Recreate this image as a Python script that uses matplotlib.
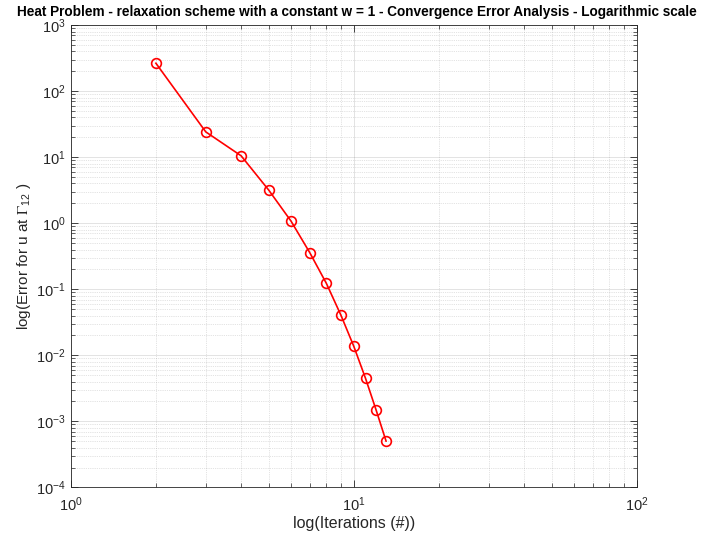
import matplotlib
matplotlib.use("Agg")
import matplotlib.pyplot as plt
from matplotlib.ticker import LogLocator, NullFormatter

iterations = [2, 3, 4, 5, 6, 7, 8, 9, 10, 11, 12, 13]
errors = [265, 24.2, 10.5, 3.2, 1.08, 0.355, 0.123, 0.0408, 0.0137, 0.00449, 0.00147, 0.000503]

plt.rcParams['font.family'] = ['Liberation Sans', 'DejaVu Sans']
plt.rcParams['mathtext.fontset'] = 'stix'
plt.rcParams['axes.unicode_minus'] = False

fig = plt.figure(figsize=(7.14, 5.35), dpi=100)
ax = fig.add_axes([0.099, 0.089, 0.793, 0.864])
ax.loglog(iterations, errors, '-o', color='#ff0000', lw=1.2, markersize=7,
          markerfacecolor='none', markeredgewidth=1.2, zorder=3)
ax.set_xlim(1, 100)
ax.set_ylim(1e-4, 1e3)

ax.xaxis.set_major_locator(LogLocator(base=10, numticks=10))
ax.yaxis.set_major_locator(LogLocator(base=10, numticks=20))
ax.xaxis.set_minor_locator(LogLocator(base=10, subs=range(2, 10), numticks=20))
ax.yaxis.set_minor_locator(LogLocator(base=10, subs=range(2, 10), numticks=20))
ax.xaxis.set_minor_formatter(NullFormatter())
ax.yaxis.set_minor_formatter(NullFormatter())

ax.grid(True, which='major', color='#262626', alpha=0.15, lw=0.6, linestyle='-')
ax.grid(True, which='minor', color='#262626', alpha=0.25, lw=0.5, linestyle=':')
ax.set_axisbelow(True)

for s in ax.spines.values():
    s.set_color('#262626')
    s.set_linewidth(0.6)
ax.tick_params(which='both', direction='in', top=True, right=True, colors='#262626',
               labelcolor='#262626', labelsize=10.5)
ax.tick_params(which='major', length=5, width=0.6)
ax.tick_params(which='minor', length=3, width=0.5)
ax.tick_params(axis='x', pad=6)

ax.set_xlabel('log(Iterations (#))', fontsize=11.5, color='#262626', labelpad=1)
ax.set_ylabel(r'log(Error for u at $\Gamma_{\mathregular{12}}$ )', fontsize=11, color='#262626', labelpad=2)
fig.text(0.5, 0.978, 'Heat Problem - relaxation scheme with a constant w = 1 - Convergence Error Analysis - Logarithmic scale',
         fontsize=9.8, fontweight='bold', color='black', ha='center', va='center')

fig.savefig('out.png', dpi=100, facecolor='white')
